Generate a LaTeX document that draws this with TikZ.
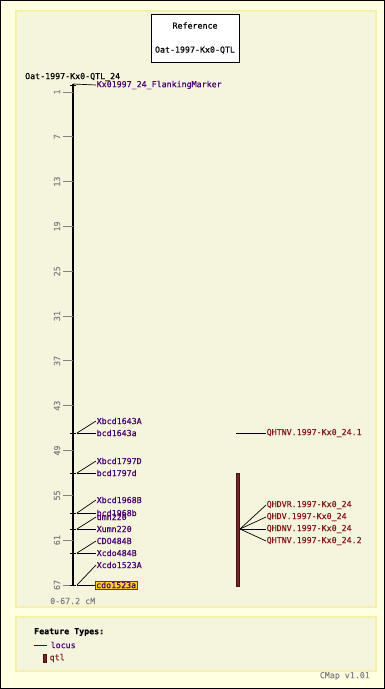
\documentclass[tikz,border=0pt]{standalone}
\usepackage{fontspec}
\newfontfamily\cmapfont[FakeBold=0.4]{DejaVu Sans Mono}
\usetikzlibrary{positioning}
\definecolor{pagebg}{RGB}{255,255,226}
\definecolor{panelbg}{RGB}{245,245,222}
\definecolor{panelline}{RGB}{245,240,170}
\definecolor{locuscol}{RGB}{72,0,110}
\definecolor{qtlcol}{RGB}{130,25,25}
\definecolor{qtlfill}{RGB}{110,40,40}
\definecolor{tickcol}{RGB}{130,130,130}
\definecolor{hilite}{RGB}{255,210,40}

\begin{document}
\begin{tikzpicture}[x=1pt,y=-1pt,font=\cmapfont\fontsize{8.3}{9}\selectfont]
	\tikzstyle{locus}=[anchor=west,inner sep=0.5pt,text=locuscol]
	\tikzstyle{qtl}=[anchor=west,inner sep=0.5pt,text=qtlcol]
	\tikzstyle{scalelab}=[rotate=90,text=tickcol,inner sep=0pt]
	\tikzstyle{link}=[black,line width=0.7pt]
	\tikzstyle{panel}=[fill=panelbg,draw=panelline,line width=2pt]
	% page and panels
	\filldraw[fill=pagebg,draw=black,line width=0.8pt] (0.4,0.4) rectangle (384.6,688.6);
	\useasboundingbox (0,0) rectangle (385,689);
	\filldraw[panel] (16,11) rectangle (376,607);
	\filldraw[panel] (16,617) rectangle (376,671);
	\node[draw,fill=white,minimum width=88pt,minimum height=48pt,align=center] (ref) at (195,38)
		{Reference\\[15pt]Oat-1997-Kx0-QTL};
	\node[anchor=west,inner sep=0pt] (title) at (25,77) {Oat-1997-Kx0-QTL\_24};
	% chromosome
	\coordinate (top) at (73,84);
	\coordinate (bot) at (73,586);
	\draw[line width=2.5pt] (top) -- (bot);
	\foreach \cm in {1,7,...,67} {
		\pgfmathsetmacro\yy{84.5+7.47*\cm}
		\coordinate (t\cm) at (73,\yy);
		\draw[tickcol,line width=0.8pt] (t\cm) -- ++(-10,0);
		\node[scalelab] (s\cm) at (57,\yy) {\cm};
	}
	\node[anchor=west,inner sep=0pt,text=tickcol] (range) at (50,601) {0-67.2 cM};
	% loci
	\foreach \name/\yy in {fm/85,a/433,b/473,c/513,d/529,e/553,f/585} {
		\draw[link] (70,\yy) -- (76,\yy);
		\coordinate (m\name) at (77,\yy);
	}
	\node[locus] (fml) at (96,85) {Kx01997\_24\_FlankingMarker};
	\node[locus] (a1) at (96,433) {bcd1643a};
	\node[locus] (a2) at (96,421) {Xbcd1643A};
	\node[locus] (b1) at (96,473) {bcd1797d};
	\node[locus] (b2) at (96,461) {Xbcd1797D};
	\node[locus] (c1) at (96,513) {bcd1968b};
	\node[locus] (c2) at (96,500) {Xbcd1968B};
	\node[locus] (d1) at (96,529) {Xumn220};
	\node[locus] (d2) at (96,517) {umn220};
	\node[locus] (e1) at (96,553) {Xcdo484B};
	\node[locus] (e2) at (96,541) {CDO484B};
	\node[locus,fill=hilite,draw=red!85!black,inner sep=1pt] (f1) at (95,585) {cdo1523a};
	\node[locus] (f2) at (96,565) {Xcdo1523A};
	\path[link] (top) edge (fml.west)
		(ma) edge (a1.west) (ma) edge (a2.west)
		(mb) edge (b1.west) (mb) edge (b2.west)
		(mc) edge (c1.west) (mc) edge (c2.west)
		(md) edge (d1.west) (md) edge (d2.west)
		(me) edge (e1.west) (me) edge (e2.west)
		(mf) edge (f1.west) (mf) edge (f2.west);
	% qtls
	\coordinate (q1) at (236,433);
	\node[qtl] (q1l) at (266,433) {QHTNV.1997-Kx0\_24.1};
	\draw[link] (q1) -- (q1l.west);
	\node[draw=qtlcol!60!black,fill=qtlfill,minimum width=3pt,minimum height=113pt,inner sep=0pt] (qbar) at (238,529.5) {};
	\coordinate (hub) at (240,529);
	\node[qtl] (q2) at (266,505) {QHDVR.1997-Kx0\_24};
	\node[qtl] (q3) at (266,517) {QHDV.1997-Kx0\_24};
	\node[qtl] (q4) at (266,529) {QHDNV.1997-Kx0\_24};
	\node[qtl] (q5) at (266,541) {QHTNV.1997-Kx0\_24.2};
	\path[link] (hub) edge (q2.west) (hub) edge (q3.west) (hub) edge (q4.west) (hub) edge (q5.west);
	% legend
	\node[anchor=west,inner sep=0pt,font=\cmapfont\bfseries\fontsize{8.3}{9}\selectfont] (ftypes) at (34,632) {Feature Types:};
	\coordinate (lg1) at (34,645);
	\coordinate (lg2) at (47,645);
	\draw[locuscol,line width=0.8pt] (lg1) -- (lg2);
	\node[locus] (lglocus) at (50,645) {locus};
	\filldraw[fill=qtlfill,draw=qtlcol!60!black] (43,654) rectangle (46,662);
	\node[qtl] (lgqtl) at (49,658) {qtl};
	\node[anchor=east,inner sep=0pt,text=tickcol] (ver) at (370,676) {CMap v1.01};
\end{tikzpicture}
\end{document}
